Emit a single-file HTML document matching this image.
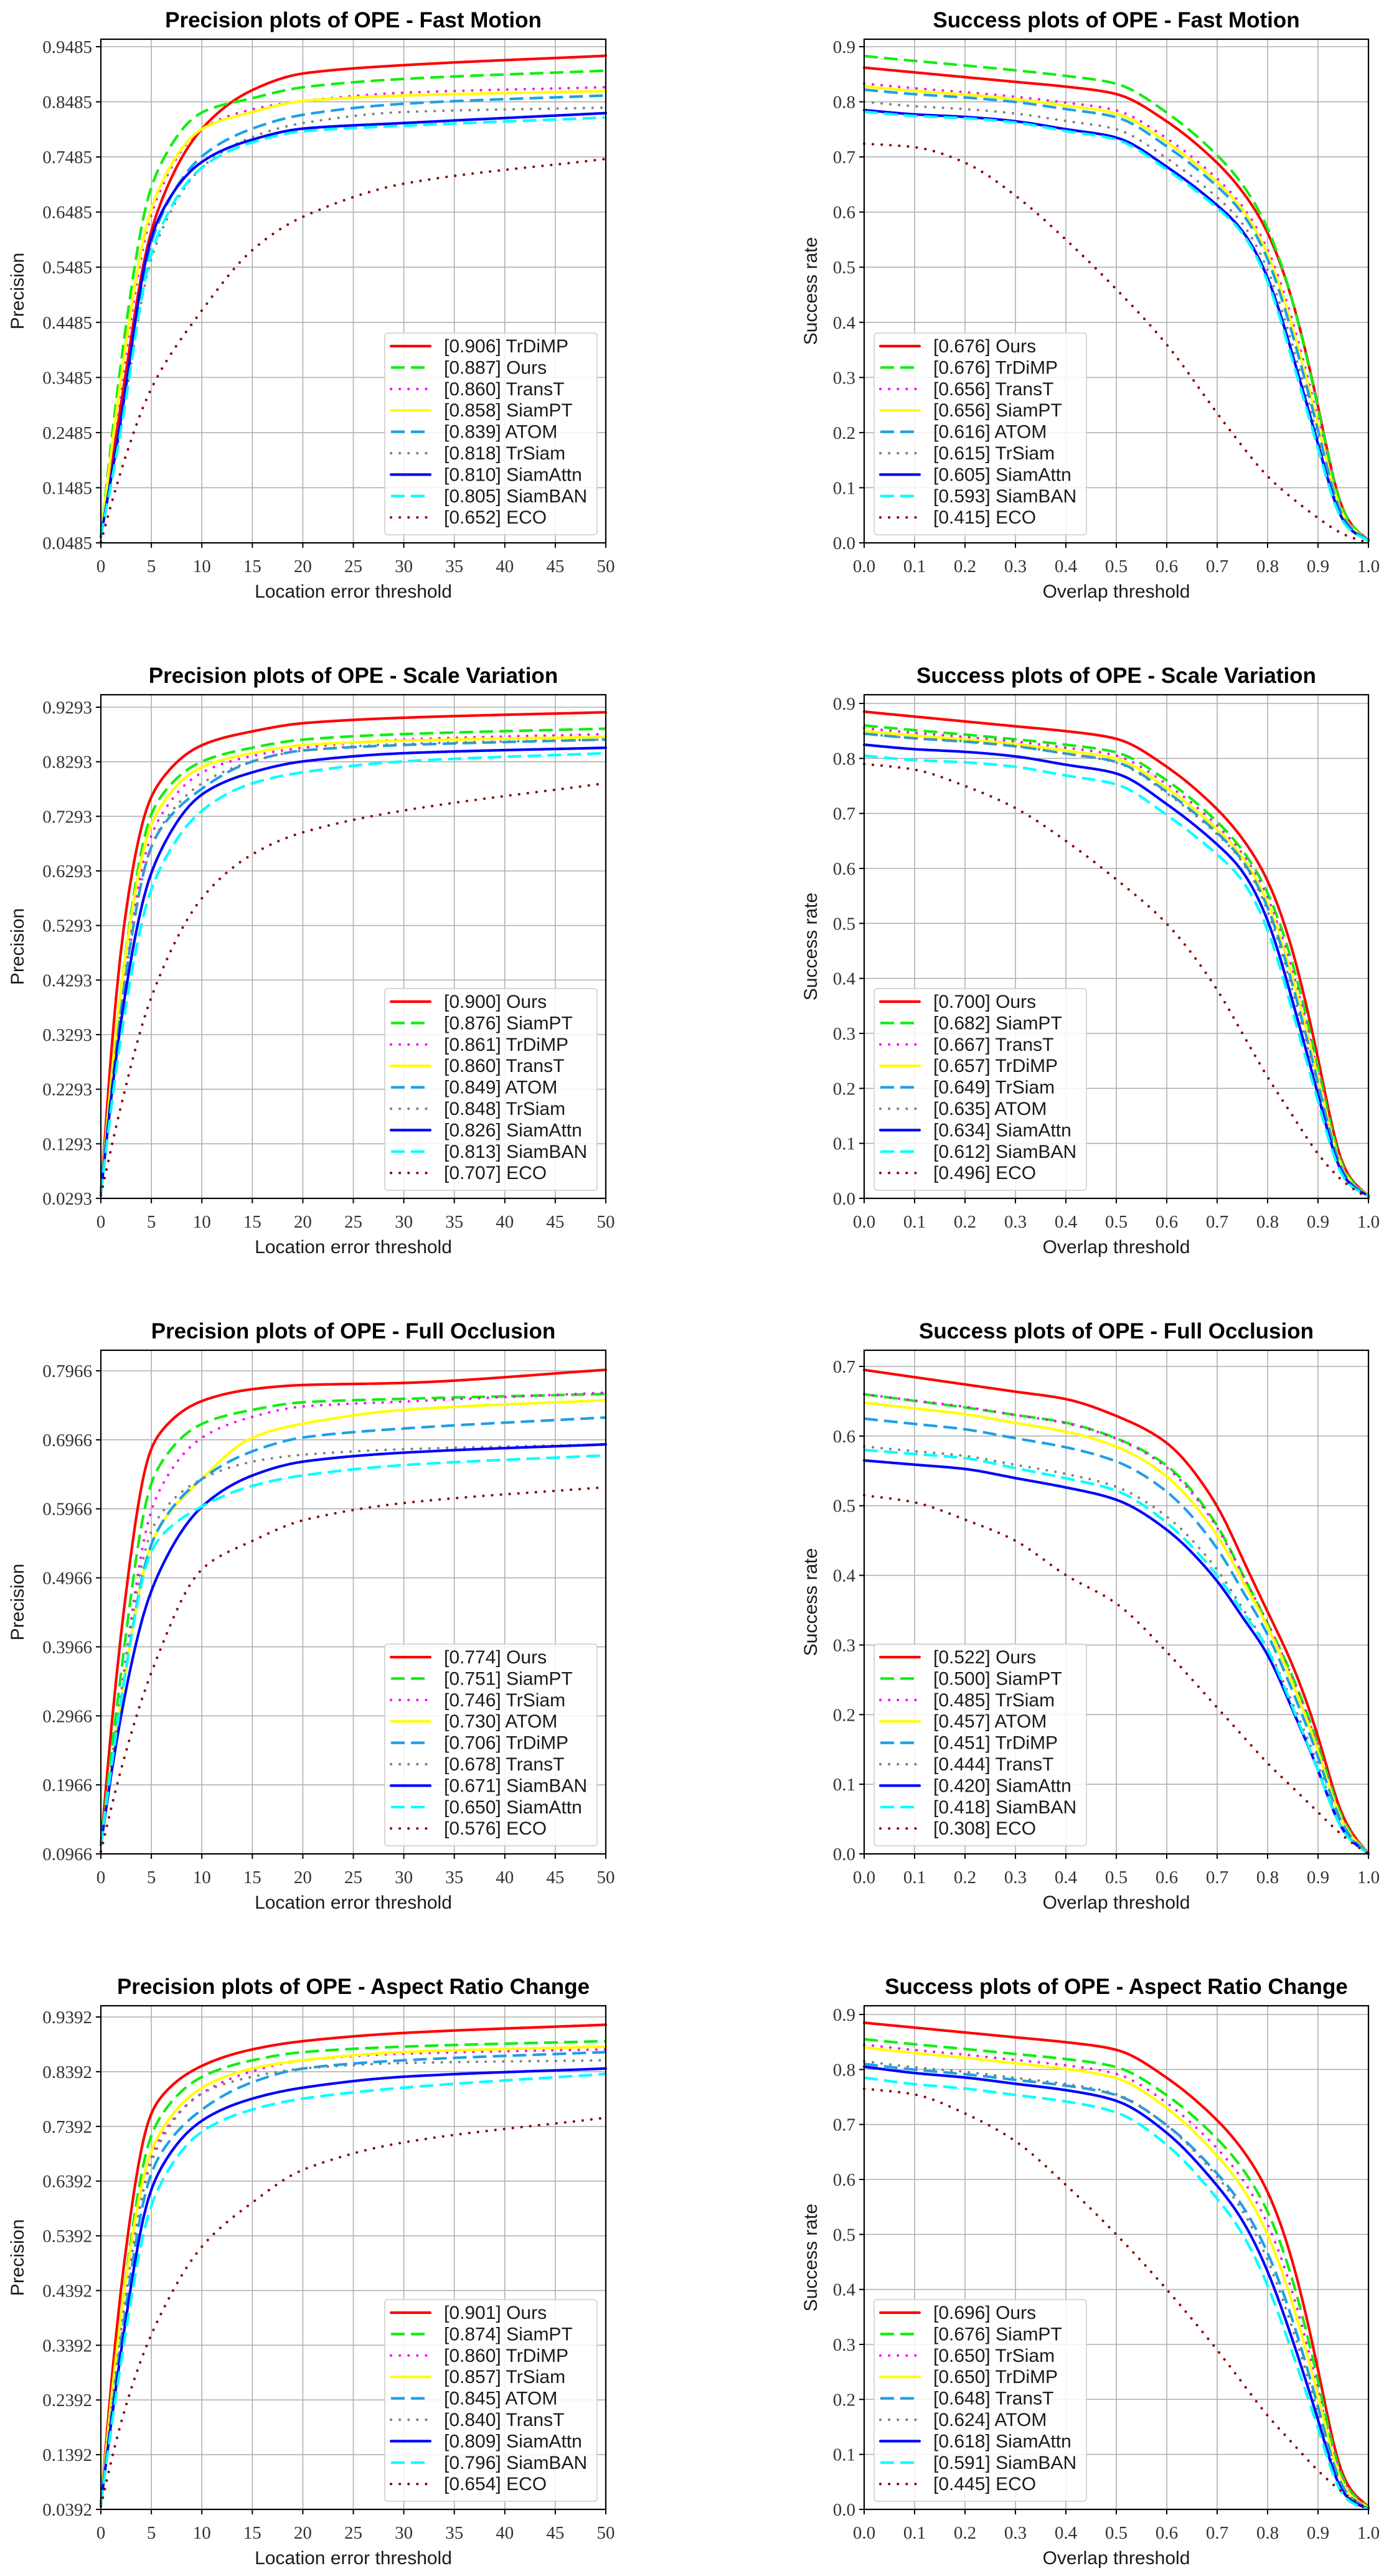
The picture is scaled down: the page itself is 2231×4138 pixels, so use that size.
<!DOCTYPE html>
<html><head><meta charset="utf-8">
<style>
html,body{margin:0;padding:0;background:#fff;}
svg{display:block;}
.ti{font:bold 35px "Liberation Sans",Arial,sans-serif;fill:#000;text-anchor:middle;}
.ax{font:30px "Liberation Sans",Arial,sans-serif;fill:#1a1a1a;text-anchor:middle;}
.yt text{font:29px "Liberation Serif",serif;fill:#333;text-anchor:end;}
.xt text{font:29px "Liberation Serif",serif;fill:#333;text-anchor:middle;}
.lg text{font:30px "Liberation Sans",Arial,sans-serif;fill:#1a1a1a;}
</style></head>
<body>
<svg id="S" width="2231" height="4138" viewBox="0 0 2231 4138">
<rect width="2231" height="4138" fill="#fff"/>

<g class="pn">
<text class="ti">Precision plots of OPE - Fast Motion</text>
<text class="ax xl">Location error threshold</text>
<text class="ax yl">Precision</text>
<g class="yt"><text>0.9485</text><text>0.8485</text><text>0.7485</text><text>0.6485</text><text>0.5485</text><text>0.4485</text><text>0.3485</text><text>0.2485</text><text>0.1485</text><text>0.0485</text></g>
<g class="xt"><text>0</text><text>5</text><text>10</text><text>15</text><text>20</text><text>25</text><text>30</text><text>35</text><text>40</text><text>45</text><text>50</text></g>
<g class="lg"><text>[0.906] TrDiMP</text><text>[0.887] Ours</text><text>[0.860] TransT</text><text>[0.858] SiamPT</text><text>[0.839] ATOM</text><text>[0.818] TrSiam</text><text>[0.810] SiamAttn</text><text>[0.805] SiamBAN</text><text>[0.652] ECO</text></g>
</g>

<g class="pn">
<text class="ti">Success plots of OPE - Fast Motion</text>
<text class="ax xl">Overlap threshold</text>
<text class="ax yl">Success rate</text>
<g class="yt"><text>0.9</text><text>0.8</text><text>0.7</text><text>0.6</text><text>0.5</text><text>0.4</text><text>0.3</text><text>0.2</text><text>0.1</text><text>0.0</text></g>
<g class="xt"><text>0.0</text><text>0.1</text><text>0.2</text><text>0.3</text><text>0.4</text><text>0.5</text><text>0.6</text><text>0.7</text><text>0.8</text><text>0.9</text><text>1.0</text></g>
<g class="lg"><text>[0.676] Ours</text><text>[0.676] TrDiMP</text><text>[0.656] TransT</text><text>[0.656] SiamPT</text><text>[0.616] ATOM</text><text>[0.615] TrSiam</text><text>[0.605] SiamAttn</text><text>[0.593] SiamBAN</text><text>[0.415] ECO</text></g>
</g>

<g class="pn">
<text class="ti">Precision plots of OPE - Scale Variation</text>
<text class="ax xl">Location error threshold</text>
<text class="ax yl">Precision</text>
<g class="yt"><text>0.9293</text><text>0.8293</text><text>0.7293</text><text>0.6293</text><text>0.5293</text><text>0.4293</text><text>0.3293</text><text>0.2293</text><text>0.1293</text><text>0.0293</text></g>
<g class="xt"><text>0</text><text>5</text><text>10</text><text>15</text><text>20</text><text>25</text><text>30</text><text>35</text><text>40</text><text>45</text><text>50</text></g>
<g class="lg"><text>[0.900] Ours</text><text>[0.876] SiamPT</text><text>[0.861] TrDiMP</text><text>[0.860] TransT</text><text>[0.849] ATOM</text><text>[0.848] TrSiam</text><text>[0.826] SiamAttn</text><text>[0.813] SiamBAN</text><text>[0.707] ECO</text></g>
</g>

<g class="pn">
<text class="ti">Success plots of OPE - Scale Variation</text>
<text class="ax xl">Overlap threshold</text>
<text class="ax yl">Success rate</text>
<g class="yt"><text>0.9</text><text>0.8</text><text>0.7</text><text>0.6</text><text>0.5</text><text>0.4</text><text>0.3</text><text>0.2</text><text>0.1</text><text>0.0</text></g>
<g class="xt"><text>0.0</text><text>0.1</text><text>0.2</text><text>0.3</text><text>0.4</text><text>0.5</text><text>0.6</text><text>0.7</text><text>0.8</text><text>0.9</text><text>1.0</text></g>
<g class="lg"><text>[0.700] Ours</text><text>[0.682] SiamPT</text><text>[0.667] TransT</text><text>[0.657] TrDiMP</text><text>[0.649] TrSiam</text><text>[0.635] ATOM</text><text>[0.634] SiamAttn</text><text>[0.612] SiamBAN</text><text>[0.496] ECO</text></g>
</g>

<g class="pn">
<text class="ti">Precision plots of OPE - Full Occlusion</text>
<text class="ax xl">Location error threshold</text>
<text class="ax yl">Precision</text>
<g class="yt"><text>0.7966</text><text>0.6966</text><text>0.5966</text><text>0.4966</text><text>0.3966</text><text>0.2966</text><text>0.1966</text><text>0.0966</text></g>
<g class="xt"><text>0</text><text>5</text><text>10</text><text>15</text><text>20</text><text>25</text><text>30</text><text>35</text><text>40</text><text>45</text><text>50</text></g>
<g class="lg"><text>[0.774] Ours</text><text>[0.751] SiamPT</text><text>[0.746] TrSiam</text><text>[0.730] ATOM</text><text>[0.706] TrDiMP</text><text>[0.678] TransT</text><text>[0.671] SiamBAN</text><text>[0.650] SiamAttn</text><text>[0.576] ECO</text></g>
</g>

<g class="pn">
<text class="ti">Success plots of OPE - Full Occlusion</text>
<text class="ax xl">Overlap threshold</text>
<text class="ax yl">Success rate</text>
<g class="yt"><text>0.7</text><text>0.6</text><text>0.5</text><text>0.4</text><text>0.3</text><text>0.2</text><text>0.1</text><text>0.0</text></g>
<g class="xt"><text>0.0</text><text>0.1</text><text>0.2</text><text>0.3</text><text>0.4</text><text>0.5</text><text>0.6</text><text>0.7</text><text>0.8</text><text>0.9</text><text>1.0</text></g>
<g class="lg"><text>[0.522] Ours</text><text>[0.500] SiamPT</text><text>[0.485] TrSiam</text><text>[0.457] ATOM</text><text>[0.451] TrDiMP</text><text>[0.444] TransT</text><text>[0.420] SiamAttn</text><text>[0.418] SiamBAN</text><text>[0.308] ECO</text></g>
</g>

<g class="pn">
<text class="ti">Precision plots of OPE - Aspect Ratio Change</text>
<text class="ax xl">Location error threshold</text>
<text class="ax yl">Precision</text>
<g class="yt"><text>0.9392</text><text>0.8392</text><text>0.7392</text><text>0.6392</text><text>0.5392</text><text>0.4392</text><text>0.3392</text><text>0.2392</text><text>0.1392</text><text>0.0392</text></g>
<g class="xt"><text>0</text><text>5</text><text>10</text><text>15</text><text>20</text><text>25</text><text>30</text><text>35</text><text>40</text><text>45</text><text>50</text></g>
<g class="lg"><text>[0.901] Ours</text><text>[0.874] SiamPT</text><text>[0.860] TrDiMP</text><text>[0.857] TrSiam</text><text>[0.845] ATOM</text><text>[0.840] TransT</text><text>[0.809] SiamAttn</text><text>[0.796] SiamBAN</text><text>[0.654] ECO</text></g>
</g>

<g class="pn">
<text class="ti">Success plots of OPE - Aspect Ratio Change</text>
<text class="ax xl">Overlap threshold</text>
<text class="ax yl">Success rate</text>
<g class="yt"><text>0.9</text><text>0.8</text><text>0.7</text><text>0.6</text><text>0.5</text><text>0.4</text><text>0.3</text><text>0.2</text><text>0.1</text><text>0.0</text></g>
<g class="xt"><text>0.0</text><text>0.1</text><text>0.2</text><text>0.3</text><text>0.4</text><text>0.5</text><text>0.6</text><text>0.7</text><text>0.8</text><text>0.9</text><text>1.0</text></g>
<g class="lg"><text>[0.696] Ours</text><text>[0.676] SiamPT</text><text>[0.650] TrSiam</text><text>[0.650] TrDiMP</text><text>[0.648] TransT</text><text>[0.624] ATOM</text><text>[0.618] SiamAttn</text><text>[0.591] SiamBAN</text><text>[0.445] ECO</text></g>
</g>
</svg>

<script>
(function(){
var C=['#ff0000','#11ee11','#ff00ff','#ffff00','#1ca0e6','#808080','#0000ff','#00ffff','#8b0000'];
var D=[null,'22 10','0.1 14',null,'22 10','0.1 14',null,'22 10','0.1 14'];
var CAP=['round','butt','round','round','butt','round','round','butt','round'];
var K=[0,2,5,10,15,20,30,50];
var SX=[0,.1,.2,.3,.4,.5,.6,.7,.75,.8,.85,.9,.95,1];
var T1=[1,.99,.98,.97,.96,.945,.887,.80,.74,.655,.51,.29,.058,.005];
var W1=[1,.99,.985,.975,.955,.936,.866,.777,.72,.61,.42,.22,.04,.005];
var T3=[1,.985,.97,.955,.94,.905,.85,.72,.61,.50,.39,.245,.07,0];
var W3=[1,.99,.98,.955,.93,.90,.82,.69,.60,.51,.36,.21,.05,0];
var W4=[1,.985,.975,.96,.945,.92,.845,.72,.64,.52,.36,.19,.025,0];
function sucs(s0,T,W,eco){var o=s0.map(function(v,k){return T.map(function(t,j){return v*(t+(W[j]-t)*k/7);});});o.push(eco);return o;}
var cfg=[
{t:'p',c:0,r:0,b:.0485,n:9,off:12,d:[
[0.06,0.30,0.62,0.80,0.87,0.90,0.915,0.932],
[0.06,0.38,0.70,0.83,0.855,0.875,0.89,0.905],
[0.06,0.33,0.65,0.80,0.835,0.85,0.865,0.875],
[0.06,0.35,0.66,0.80,0.83,0.85,0.86,0.868],
[0.06,0.27,0.60,0.75,0.80,0.825,0.845,0.86],
[0.06,0.26,0.57,0.73,0.785,0.81,0.83,0.838],
[0.06,0.27,0.61,0.74,0.78,0.80,0.81,0.828],
[0.06,0.25,0.58,0.73,0.775,0.795,0.805,0.82],
[0.05,0.18,0.33,0.47,0.58,0.64,0.70,0.745]]},
{t:'s',c:1,r:0,b:0,n:9,off:12,d:sucs([.862,.883,.833,.828,.822,.80,.785,.782],T1,W1,[.724,.718,.69,.63,.55,.46,.36,.235,.175,.12,.08,.045,.015,0])},
{t:'p',c:0,r:1,b:.0293,n:9,off:20,d:[
[0.04,0.50,0.77,0.86,0.885,0.90,0.91,0.92],
[0.04,0.42,0.74,0.83,0.855,0.87,0.88,0.89],
[0.04,0.40,0.70,0.81,0.84,0.855,0.87,0.88],
[0.04,0.42,0.72,0.82,0.845,0.86,0.868,0.875],
[0.04,0.38,0.68,0.78,0.83,0.85,0.86,0.87],
[0.04,0.38,0.68,0.79,0.83,0.85,0.862,0.87],
[0.04,0.36,0.63,0.77,0.81,0.83,0.845,0.855],
[0.04,0.33,0.60,0.74,0.79,0.81,0.83,0.845],
[0.035,0.20,0.40,0.58,0.66,0.70,0.74,0.79]]},
{t:'s',c:1,r:1,b:0,n:9,off:14,d:sucs([.885,.86,.855,.85,.845,.845,.825,.805],T1,W1,[.79,.78,.75,.71,.65,.58,.50,.38,.30,.22,.15,.08,.03,0])},
{t:'p',c:0,r:2,b:.0966,n:7,off:33,d:[
[0.11,0.42,0.69,0.753,0.77,0.776,0.779,0.798],
[0.11,0.36,0.64,0.72,0.74,0.751,0.756,0.763],
[0.11,0.33,0.60,0.70,0.73,0.745,0.752,0.765],
[0.11,0.32,0.55,0.64,0.70,0.72,0.74,0.754],
[0.11,0.32,0.55,0.64,0.68,0.70,0.713,0.729],
[0.11,0.33,0.57,0.64,0.665,0.675,0.683,0.69],
[0.11,0.30,0.48,0.60,0.645,0.665,0.678,0.69],
[0.11,0.32,0.54,0.60,0.63,0.645,0.66,0.674],
[0.10,0.22,0.36,0.51,0.55,0.58,0.605,0.628]]},
{t:'s',c:1,r:2,b:0,n:7,off:26,d:sucs([.695,.66,.66,.648,.625,.585,.565,.58],T3,W3,[.515,.505,.48,.45,.40,.36,.29,.21,.17,.13,.095,.06,.025,0])},
{t:'p',c:0,r:3,b:.0392,n:9,off:18,d:[
[0.05,0.45,0.77,0.85,0.88,0.895,0.91,0.925],
[0.05,0.40,0.73,0.83,0.86,0.875,0.885,0.895],
[0.05,0.38,0.69,0.80,0.84,0.86,0.872,0.88],
[0.05,0.40,0.70,0.81,0.845,0.86,0.875,0.885],
[0.05,0.35,0.66,0.77,0.82,0.845,0.86,0.875],
[0.05,0.37,0.68,0.80,0.83,0.845,0.855,0.86],
[0.05,0.33,0.63,0.75,0.79,0.81,0.83,0.845],
[0.05,0.31,0.60,0.73,0.77,0.79,0.81,0.835],
[0.045,0.20,0.36,0.52,0.60,0.66,0.71,0.755]]},
{t:'s',c:1,r:3,b:0,n:9,off:14,d:sucs([.885,.855,.845,.84,.81,.815,.805,.785],T1,W4,[.765,.755,.72,.67,.59,.50,.40,.29,.23,.17,.12,.07,.03,0])}
];
function mono(xs,ys){
  var n=xs.length,d=[],m=[],i;
  for(i=0;i<n-1;i++)d[i]=(ys[i+1]-ys[i])/(xs[i+1]-xs[i]);
  m[0]=d[0];m[n-1]=d[n-2];
  for(i=1;i<n-1;i++)m[i]=(d[i-1]*d[i]<=0)?0:2/(1/d[i-1]+1/d[i]);
  return function(x){
    for(i=0;i<n-2&&x>xs[i+1];i++);
    var h=xs[i+1]-xs[i],t=(x-xs[i])/h,t2=t*t,t3=t2*t;
    return (2*t3-3*t2+1)*ys[i]+(t3-2*t2+t)*h*m[i]+(-2*t3+3*t2)*ys[i+1]+(t3-t2)*h*m[i+1];
  };
}
function smooth(v,sig){
  var o=[],n=v.length,R=Math.ceil(sig*3);
  for(var i=0;i<n;i++){
    var r=Math.min(R,i,n-1-i),s=0,w=0;
    for(var k=-r;k<=r;k++){var ww=Math.exp(-k*k/(2*sig*sig));s+=v[i+k]*ww;w+=ww;}
    o.push(s/w);
  }
  return o;
}
var panels=document.querySelectorAll('g.pn');
for(var p=0;p<panels.length;p++){
  var cf=cfg[p],g=panels[p];
  var X0=cf.c?1388:162,W=cf.c?810:811,T=63+cf.r*1053,H=809;
  g.setAttribute('transform','translate('+X0+','+T+')');
  var yv=function(v){return H-(v-cf.b)/(0.1*cf.n)*(H-cf.off);};
  var xv=function(x){return cf.t=='p'?x/50*W:x*W;};
  var s='',k,j;
  for(k=0;k<=10;k++){var x=k*W/10;
    s+='<line x1="'+x+'" y1="0" x2="'+x+'" y2="'+H+'" stroke="#b0b0b0" stroke-width="1.6"/>';
    s+='<line x1="'+x+'" y1="'+H+'" x2="'+x+'" y2="'+(H+8)+'" stroke="#000" stroke-width="2"/>';}
  for(k=0;k<=cf.n;k++){var y=yv(cf.b+0.1*k);
    s+='<line x1="0" y1="'+y+'" x2="'+W+'" y2="'+y+'" stroke="#b0b0b0" stroke-width="1.6"/>';
    s+='<line x1="-8" y1="'+y+'" x2="0" y2="'+y+'" stroke="#000" stroke-width="2"/>';}
  s+='<clipPath id="cp'+p+'"><rect x="-2" y="-2" width="'+(W+4)+'" height="'+(H+4)+'"/></clipPath><g clip-path="url(#cp'+p+')">';
  var N=400;
  for(j=0;j<9;j++){
    var xs=[],vs=[],f,kk;
    if(cf.t=='p'){f=mono(K,cf.d[j]);for(kk=0;kk<=N;kk++){xs.push(kk*50/N);vs.push(f(kk*50/N));} vs=smooth(vs,5);}
    else{f=mono(SX,cf.d[j]);for(kk=0;kk<=N;kk++){xs.push(kk/N);vs.push(f(kk/N));} vs=smooth(vs,6);}
    var pts=[];
    for(kk=0;kk<=N;kk++)pts.push(xv(xs[kk]).toFixed(1)+','+yv(vs[kk]).toFixed(1));
    s+='<polyline points="'+pts.join(' ')+'" fill="none" stroke="'+C[j]+'" stroke-width="4.2" stroke-linejoin="round" stroke-linecap="'+CAP[j]+'"'+(D[j]?' stroke-dasharray="'+D[j]+'"':'')+'/>';
  }
  s+='</g><rect x="0" y="0" width="'+W+'" height="'+H+'" fill="none" stroke="#000" stroke-width="2.2"/>';
  var bx=cf.t=='p'?W-355:16,by=H-337;
  s+='<rect x="'+bx+'" y="'+by+'" width="341" height="324" rx="5" fill="#fff" fill-opacity="0.85" stroke="#cccccc" stroke-width="1.5"/>';
  for(j=0;j<9;j++){var yc=H-316+j*34.4;
    s+='<line x1="'+(bx+10)+'" y1="'+yc+'" x2="'+(bx+73)+'" y2="'+yc+'" stroke="'+C[j]+'" stroke-width="4.2" stroke-linecap="'+CAP[j]+'"'+(D[j]?' stroke-dasharray="'+D[j]+'"':'')+'/>';}
  g.insertAdjacentHTML('afterbegin',s);
  var yt=g.querySelectorAll('.yt text');
  for(k=0;k<yt.length;k++){yt[k].setAttribute('x',-14);yt[k].setAttribute('y',yv(cf.b+0.1*(cf.n-k))+10);}
  var xt=g.querySelectorAll('.xt text');
  for(k=0;k<xt.length;k++){xt[k].setAttribute('x',k*W/10);xt[k].setAttribute('y',H+47);}
  var lg=g.querySelectorAll('.lg text');
  for(k=0;k<lg.length;k++){lg[k].setAttribute('x',bx+95);lg[k].setAttribute('y',H-316+k*34.4+10);}
  var ti=g.querySelector('.ti');ti.setAttribute('x',W/2);ti.setAttribute('y',-19);
  var xl=g.querySelector('.xl');xl.setAttribute('x',W/2);xl.setAttribute('y',H+88);
  var yl=g.querySelector('.yl');yl.setAttribute('transform','translate('+(cf.c?-76:-124)+','+(H/2)+') rotate(-90)');
}
})();
</script>
</body></html>
